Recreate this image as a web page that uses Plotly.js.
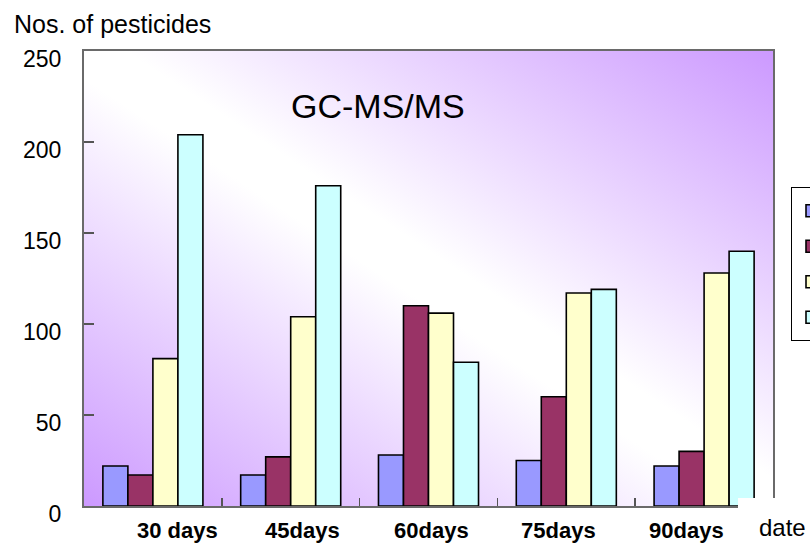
<!DOCTYPE html>
<html>
<head>
<meta charset="utf-8">
<script src="https://cdn.plot.ly/plotly-3.0.1.min.js"></script>
<style>
  html, body { margin: 0; padding: 0; background: #ffffff; }
  #chart { width: 810px; height: 543px; }
</style>
</head>
<body>
<div id="chart"></div>
<script>
// ---- data ----
const categories = ["30 days", "45days", "60days", "75days", "90days"];
const series1 = [22, 17, 28, 25, 22];
const series2 = [17, 27, 110, 60, 30];
const series3 = [81, 104, 106, 117, 128];
const series4 = [204, 176, 79, 119, 140];
const yTickVals = [0, 50, 100, 150, 200, 250];
const yTitle = "Nos. of pesticides";
const chartLabel = "GC-MS/MS";
const xTitle = "date";

// ---- styling / layout ----
const colors = ["#9999ff", "#993366", "#ffffcc", "#ccffff"];
const W = 810, H = 543;
const M = { l: 84, r: 37, t: 51, b: 37 };
const PW = W - M.l - M.r, PH = H - M.t - M.b;
const px2x = p => (p - M.l) / PW;
const py2y = p => (H - M.b - p) / PH;
// pixel centres of the category text boxes (as placed in the original)
const catLabelPx = [177, 302, 431, 558, 686];

// gradient background for the plot area
function gradientURL() {
  const c = document.createElement("canvas");
  c.width = PW; c.height = PH;
  const g = c.getContext("2d");
  const norm = Math.sqrt(PW * PW + PH * PH);
  const dx = PH / norm, dy = -PW / norm;
  const L = PW * PH / norm;
  const cx = PW / 2, cy = PH / 2;
  const grad = g.createLinearGradient(cx - dx * L, cy - dy * L, cx + dx * L, cy + dy * L);
  grad.addColorStop(0, "#cc99ff");
  grad.addColorStop(0.47, "#ffffff");
  grad.addColorStop(0.53, "#ffffff");
  grad.addColorStop(1, "#cc99ff");
  g.fillStyle = grad;
  g.fillRect(0, 0, PW, PH);
  return c.toDataURL("image/png");
}

const allSeries = [series1, series2, series3, series4];
// the legend's entry texts lie beyond the page edge in the original, so they are left empty
const traces = allSeries.map((vals, i) => ({
  type: "bar",
  name: "",
  x: categories,
  y: vals,
  marker: { color: colors[i], line: { color: "#000000", width: 1.6 } },
  hoverinfo: "x+y"
}));

const font = "Arial, 'Liberation Sans', sans-serif";

const annotations = categories.map((c, i) => ({
  text: "<b>" + c + "</b>", xref: "paper", yref: "paper",
  x: px2x(catLabelPx[i]), y: py2y(530.5),
  xanchor: "center", yanchor: "middle", showarrow: false,
  font: { family: font, size: 22, color: "#000" }
}));

annotations.push({
  text: yTitle, xref: "paper", yref: "paper",
  x: px2x(12), y: py2y(24), xanchor: "left", yanchor: "middle",
  showarrow: false, font: { family: font, size: 25, color: "#000" }
});
annotations.push({
  text: chartLabel, xref: "paper", yref: "paper",
  x: px2x(378), y: py2y(106), xanchor: "center", yanchor: "middle",
  showarrow: false, font: { family: font, size: 34, color: "#000" }
});
annotations.push({
  text: xTitle, xref: "paper", yref: "paper",
  x: px2x(757), y: py2y(527), xanchor: "left", yanchor: "middle",
  showarrow: false, font: { family: font, size: 24, color: "#000" }
});

const layout = {
  width: W, height: H,
  margin: { l: M.l, r: M.r, t: M.t, b: M.b, autoexpand: false },
  paper_bgcolor: "#ffffff",
  plot_bgcolor: "rgba(0,0,0,0)",
  barmode: "group",
  bargap: 0.274,
  bargroupgap: 0,
  font: { family: font, color: "#000" },
  xaxis: {
    type: "category",
    showticklabels: false,
    ticks: "inside", tickson: "boundaries", ticklen: 8, tickwidth: 1.5, tickcolor: "#555",
    showline: true, linecolor: "#6a6a6a", linewidth: 2, mirror: true,
    showgrid: false, zeroline: false, fixedrange: true
  },
  yaxis: {
    range: [0, 250],
    tickvals: yTickVals,
    ticks: "inside", ticklen: 10, tickwidth: 1.5, tickcolor: "#555",
    ticklabelstandoff: 16, ticklabelshift: 8,
    tickfont: { family: font, size: 23, color: "#000" },
    showline: true, linecolor: "#6a6a6a", linewidth: 2, mirror: true,
    showgrid: false, zeroline: false, fixedrange: true
  },
  images: [{
    source: gradientURL(), xref: "paper", yref: "paper",
    x: 0, y: 1, sizex: 1, sizey: 1, sizing: "stretch",
    xanchor: "left", yanchor: "top", layer: "below"
  }],
  shapes: [{
    type: "rect", xref: "paper", yref: "paper", layer: "above",
    x0: px2x(738), x1: px2x(778), y0: py2y(512), y1: py2y(498),
    fillcolor: "#ffffff", line: { width: 0 }
  }],
  showlegend: true,
  legend: {
    x: px2x(791), y: py2y(187), xanchor: "left", yanchor: "top",
    bgcolor: "#ffffff", bordercolor: "#000000", borderwidth: 1,
    font: { family: font, size: 25, color: "#000" },
    tracegroupgap: 0, traceorder: "normal"
  },
  annotations: annotations
};

Plotly.newPlot("chart", traces, layout, { displayModeBar: false, staticPlot: true });
</script>
</body>
</html>
